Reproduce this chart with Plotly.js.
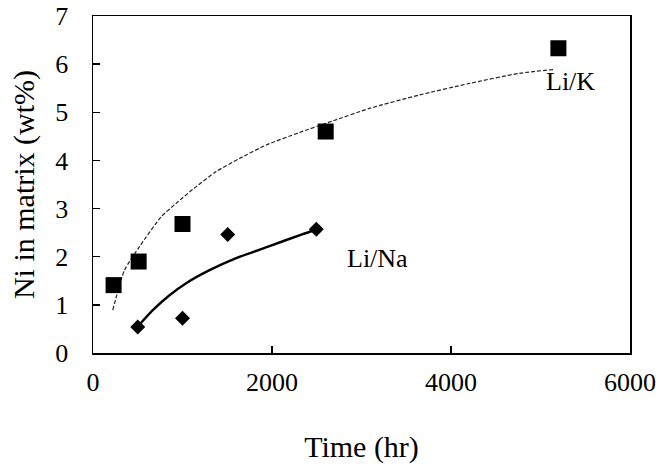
<!DOCTYPE html>
<html>
<head>
<meta charset="utf-8">
<script src="https://cdn.plot.ly/plotly-3.0.1.min.js"></script>
<style>html,body{margin:0;padding:0;background:#fff;}#chart{width:659px;height:469px;}</style>
</head>
<body>
<div id="chart"></div>
<script>
// Measured data (Time in hr, Ni in wt%)
var likTime = [230, 510, 1000, 2600, 5200];
var likNi = [1.41, 1.90, 2.68, 4.60, 6.33];
var linaTime = [500, 1000, 1505, 2495];
var linaNi = [0.54, 0.72, 2.46, 2.57];
// Fitted curves
var likFitTime = [221, 352, 520, 762, 930, 1115, 1377, 1637, 1935, 2307, 2679, 3089, 3648, 4207, 4765, 5156];
var likFitNi = [0.89, 1.72, 2.21, 2.83, 3.11, 3.40, 3.77, 4.04, 4.32, 4.58, 4.82, 5.08, 5.36, 5.60, 5.81, 5.89];
var linaFitTime = [500, 668, 855, 1041, 1302, 1600, 1972, 2344, 2475];
var linaFitNi = [0.55, 0.89, 1.20, 1.45, 1.72, 1.97, 2.22, 2.47, 2.55];
var xTicks = [0, 2000, 4000, 6000];
var yTicks = [0, 1, 2, 3, 4, 5, 6, 7];
var labels = ["Li/K", "Li/Na"];
var labelX = [5335, 3180];
var labelY = [5.63, 1.97];

var serif = "Liberation Serif, Times New Roman, serif";
var traces = [
  {x: likFitTime, y: likFitNi, mode: "lines", line: {color: "#222", width: 1.2, dash: "4px,2px", shape: "spline", smoothing: 0.6}, hoverinfo: "skip"},
  {x: linaFitTime, y: linaFitNi, mode: "lines", line: {color: "#000", width: 2.4, shape: "spline", smoothing: 0.6}, hoverinfo: "skip"},
  {x: likTime, y: likNi, mode: "markers", marker: {symbol: "square", size: 16, color: "#000"}},
  {x: linaTime, y: linaNi, mode: "markers", marker: {symbol: "diamond", size: 11.5, color: "#000"}}
];
var annotations = labels.map(function(t, i) {
  return {x: labelX[i], y: labelY[i], xref: "x", yref: "y", text: t, showarrow: false,
          font: {family: serif, size: 26, color: "#000"}};
});
var layout = {
  width: 659, height: 469,
  margin: {l: 93, r: 29, t: 16, b: 116},
  paper_bgcolor: "#fff", plot_bgcolor: "#fff",
  showlegend: false,
  font: {family: serif, color: "#000"},
  xaxis: {range: [0, 6000], tickvals: xTicks, ticktext: xTicks.map(String), showgrid: false, zeroline: false,
          showline: true, linecolor: "#000", linewidth: 1.5, mirror: true,
          ticks: "inside", ticklen: 7, tickwidth: 1.5, tickcolor: "#000",
          tickfont: {family: serif, size: 26, color: "#000"}, ticklabelstandoff: 5,
          title: {text: "Time (hr)", font: {family: serif, size: 30, color: "#000"}, standoff: 40}},
  yaxis: {range: [0, 7], tickvals: yTicks, ticktext: yTicks.map(String), showgrid: false, zeroline: false,
          showline: true, linecolor: "#000", linewidth: 1.5, mirror: true,
          ticks: "inside", ticklen: 7, tickwidth: 1.5, tickcolor: "#000",
          tickfont: {family: serif, size: 26, color: "#000"}, ticklabelstandoff: 18,
          title: {text: "Ni in matrix (wt%)", font: {family: serif, size: 30, color: "#000"}, standoff: 12}},
  annotations: annotations
};
Plotly.newPlot("chart", traces, layout, {displayModeBar: false, staticPlot: true});
</script>
</body>
</html>
